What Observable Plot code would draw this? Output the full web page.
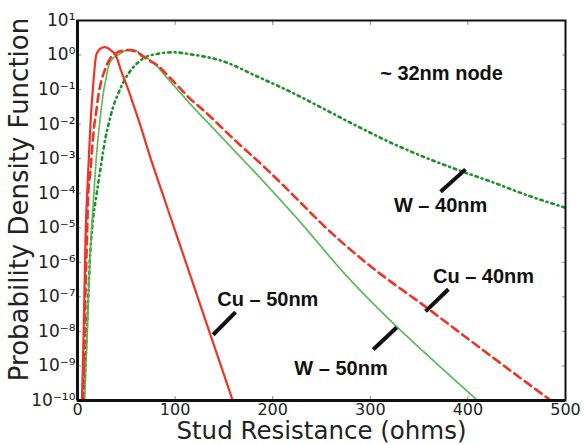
<!DOCTYPE html>
<html><head><meta charset="utf-8">
<script src="https://cdn.jsdelivr.net/npm/d3@7"></script>
<script src="https://cdn.jsdelivr.net/npm/@observablehq/plot@0.6"></script>
<style>html,body{margin:0;padding:0;background:#fff}#chart svg{display:block}</style>
</head><body><div id="chart"></div>
<script>
// Cu – 50nm (solid red)
const cu50X = [4.5,5.5,6.3,7,7.7,8.5,9.9,11.6,13.3,15.7,19.2,22,25,28,31,35,39,45,52,58,64,75,87,99,111,123,135,147,159];
const cu50Y = [1e-10,1e-9,1e-8,1e-7,1e-6,1e-5,1e-4,1e-3,1e-2,0.1,1,1.4,1.62,1.7,1.6,1.3,1.0,0.33,0.1,0.032,0.01,1e-3,1e-4,1e-5,1e-6,1e-7,1e-8,1e-9,1e-10];
// Cu – 40nm (dashed red)
const cu40X = [5.5,6.5,7.3,8,9,10,11,13.3,15,16.7,19.2,21.5,24.5,28.5,33,39,45,54,61,68,75,82,94,105.6,116,126,160,195,229,248,297,359,416,485];
const cu40Y = [1e-10,1e-9,1e-8,1e-7,1e-6,1e-5,1e-4,4.4e-4,2e-3,6.9e-3,0.023,0.071,0.18,0.4,0.76,1.1,1.32,1.38,1.2,0.87,0.66,0.5,0.23,0.105,0.052,0.03,3.7e-3,4.6e-4,5.2e-5,1.5e-5,9.1e-7,4.6e-8,2.8e-9,1e-10];
// W – 50nm (fine dotted green)
const w50X = [7.3,8.7,10,11.2,12.7,14.5,16.8,19.2,22.6,27,29.4,32,35,40,45,52,58,65,72,78,90,105.6,116,135,160,195,224,277,328,365,410];
const w50Y = [1e-10,1e-9,1e-8,1e-7,1e-6,1e-5,1e-4,1e-3,1e-2,0.1,0.22,0.5,0.72,0.95,1.15,1.45,1.4,1.07,0.8,0.6,0.25,0.079,0.037,0.01,1.8e-3,1.6e-4,2e-5,3.7e-7,1.3e-8,1.4e-9,1e-10];
// W – 40nm (dash-dot green)
const w40X = [6.5,8,9.5,11,12.5,15,19.2,21.2,23.6,26,28.7,32.1,36.2,41.3,47.5,57.4,67.7,83,98.5,116,150,184,218,252,286,320,355,390,425,460,500];
const w40Y = [1e-10,1e-9,1e-8,1e-7,1e-6,1e-5,8e-5,1.95e-4,5.2e-4,1.45e-3,4e-3,0.0107,0.0295,0.072,0.174,0.45,0.8,1.1,1.2,1.05,0.65,0.24,0.087,0.028,8.9e-3,3.0e-3,1.12e-3,4.7e-4,2.1e-4,8.9e-5,3.8e-5];

// axis ticks
const xTicks = [0,100,200,300,400,500];
const yTicks = [1e-10,1e-9,1e-8,1e-7,1e-6,1e-5,1e-4,1e-3,1e-2,1e-1,1,10];

// annotations (data coordinates)
const annText = ["~ 32nm node","W – 40nm","Cu – 40nm","Cu – 50nm","W – 50nm"];
const annX = [373,372,416,195,270];
const annY = [0.30,4.5e-5,3.9e-7,8.5e-8,8.5e-10];
const ptrX1 = [372,356.6,139,303];
const ptrY1 = [1.1e-4,3.8e-8,8e-9,3e-9];
const ptrX2 = [397.5,380,162,327];
const ptrY2 = [4.9e-4,1.66e-7,3.6e-8,1.3e-8];

const mk = (X, Y) => X.map((x, i) => ({x, y: Y[i]}));
const sup = {"-":"⁻","0":"⁰","1":"¹","2":"²","3":"³","4":"⁴","5":"⁵","6":"⁶","7":"⁷","8":"⁸","9":"⁹"};
const fmtY = d => "10" + String(Math.round(Math.log10(d))).split("").map(c => sup[c]).join("");

const ann = annText.map((t, i) => ({t, x: annX[i], y: annY[i]}));
const ptr = ptrX1.map((x, i) => ({x1: x, y1: ptrY1[i], x2: ptrX2[i], y2: ptrY2[i]}));

const red = "#ee3426", green = "#1f8f2a", lightGreen = "#58b558";

const chart = Plot.plot({
  width: 584, height: 445,
  marginLeft: 77, marginRight: 19, marginTop: 20, marginBottom: 45,
  style: {fontFamily: "DejaVu Sans", fontSize: "17px", color: "#222", background: "#fff"},
  x: {domain: [0, 500]},
  y: {type: "log", domain: [1e-10, 10]},
  marks: [
    Plot.axisX({ticks: xTicks, tickSize: -4, tickPadding: 7, label: null, fontSize: 16, stroke: "#888", color: "#222"}),
    Plot.axisX({anchor: "top", ticks: xTicks, tickSize: -4, tickFormat: () => "", label: null, stroke: "#888"}),
    Plot.axisY({ticks: yTicks, tickSize: -4, tickPadding: 6, tickFormat: fmtY, label: null, fontSize: 17, stroke: "#888"}),
    Plot.axisY({anchor: "right", ticks: yTicks, tickSize: -4, tickFormat: () => "", label: null, stroke: "#888"}),
    Plot.line(mk(w40X, w40Y), {x: "x", y: "y", curve: "monotone-x", stroke: green, strokeWidth: 2.6, strokeDasharray: "2.5,4,1,4", clip: true}),
    Plot.line(mk(w50X, w50Y), {x: "x", y: "y", curve: "monotone-x", stroke: lightGreen, strokeWidth: 1.8, strokeDasharray: "1.2,1.6", clip: true}),
    Plot.line(mk(cu40X, cu40Y), {x: "x", y: "y", curve: "monotone-x", stroke: red, strokeWidth: 2.6, strokeDasharray: "8,5", clip: true}),
    Plot.line(mk(cu50X, cu50Y), {x: "x", y: "y", curve: "monotone-x", stroke: red, strokeWidth: 2.2, clip: true}),
    Plot.link(ptr, {x1: "x1", y1: "y1", x2: "x2", y2: "y2", stroke: "#111", strokeWidth: 4}),
    Plot.text(ann, {x: "x", y: "y", text: "t", fontFamily: "Liberation Sans, Arial, sans-serif", fontWeight: "bold", fontSize: 20, fill: "#111"}),
    Plot.text(["Stud Resistance (ohms)"], {frameAnchor: "bottom", lineAnchor: "middle", textAnchor: "middle", dy: 31, fontSize: 24.5, fill: "#222"}),
    Plot.text(["Probability Density Function"], {frameAnchor: "left", lineAnchor: "middle", textAnchor: "middle", dx: -58, dy: -11, rotate: -90, fontSize: 26, fill: "#222"}),
    Plot.ruleX([0], {stroke: "#111", strokeWidth: 3}),
    Plot.ruleY([1e-10], {stroke: "#111", strokeWidth: 3}),
    Plot.frame({stroke: "#111", strokeWidth: 2})
  ]
});
document.getElementById("chart").appendChild(chart);
</script>
</body></html>
